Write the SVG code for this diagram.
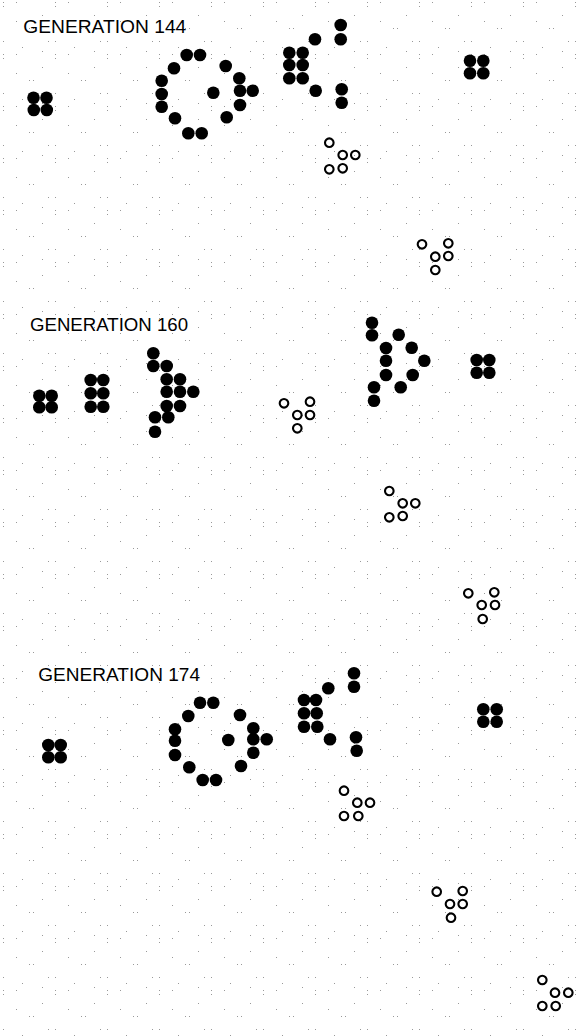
<svg xmlns="http://www.w3.org/2000/svg" width="583" height="1036" viewBox="0 0 583 1036">
<defs>
<style>
.t{font-family:"Liberation Sans",Arial,sans-serif;font-size:19px;fill:#000}
.c{fill:#000}
.o{fill:none;stroke:#000;stroke-width:2.1}
.g{fill:#999}
</style>
<pattern id="noise" x="3" y="2" width="52" height="52" patternUnits="userSpaceOnUse">
<rect class="g" x="0" y="0" width="1" height="1"/>
<rect class="g" x="0" y="4" width="1" height="1"/>
<rect class="g" x="13" y="0" width="1" height="1"/>
<rect class="g" x="39" y="13" width="1" height="1"/>
<rect class="g" x="26" y="26" width="1" height="1"/>
<rect class="g" x="30" y="26" width="1" height="1"/>
<rect class="g" x="0" y="39" width="1" height="1"/>
<rect class="g" x="45" y="39" width="1" height="1"/>
<rect class="g" x="19" y="45" width="1" height="1"/>
<rect class="g" x="13" y="19" width="1" height="1"/>
<rect class="g" x="39" y="49" width="1" height="1"/>
</pattern>
<circle id="d" r="6.3" class="c"/>
<circle id="h" r="4.3" class="o"/>
</defs>
<rect width="583" height="1036" fill="#fff"/>
<rect width="583" height="1036" fill="url(#noise)"/>

<g id="gen144">
<text class="t" x="23.3" y="32.7" textLength="163" lengthAdjust="spacingAndGlyphs">GENERATION 144</text>
<g id="g144-block-left">
<use href="#d" x="33.5" y="97.8"/><use href="#d" x="46.5" y="97.8"/>
<use href="#d" x="33.8" y="110"/><use href="#d" x="46.8" y="110"/>
</g>
<g id="g144-queenbee">
<use href="#d" x="186.7" y="55"/><use href="#d" x="200" y="55"/>
<use href="#d" x="174" y="68.3"/><use href="#d" x="225.7" y="66"/>
<use href="#d" x="161.7" y="80.7"/><use href="#d" x="239.3" y="78.3"/>
<use href="#d" x="161.7" y="94"/><use href="#d" x="213.3" y="92.7"/>
<use href="#d" x="240" y="90.7"/><use href="#d" x="252.7" y="90.7"/>
<use href="#d" x="161.7" y="106.7"/><use href="#d" x="240" y="105"/>
<use href="#d" x="175" y="118.3"/><use href="#d" x="226.7" y="117.3"/>
<use href="#d" x="188.3" y="133.3"/><use href="#d" x="201.7" y="133.3"/>
</g>
<g id="g144-gun-right">
<use href="#d" x="340.7" y="25"/><use href="#d" x="340.7" y="39.3"/>
<use href="#d" x="315" y="39.3"/>
<use href="#d" x="289.3" y="52.7"/><use href="#d" x="302.7" y="52.7"/>
<use href="#d" x="289.3" y="65"/><use href="#d" x="302.7" y="65"/>
<use href="#d" x="289.3" y="78.3"/><use href="#d" x="302.7" y="78.3"/>
<use href="#d" x="315.7" y="90.7"/><use href="#d" x="341.7" y="89.3"/>
<use href="#d" x="341.7" y="102.7"/>
</g>
<g id="g144-block-right">
<use href="#d" x="470" y="60.7"/><use href="#d" x="483.3" y="60.7"/>
<use href="#d" x="470" y="73.3"/><use href="#d" x="483.3" y="73.3"/>
</g>
<g id="g144-glider1">
<use href="#h" x="329.3" y="142.7"/>
<use href="#h" x="342.7" y="155"/><use href="#h" x="355.3" y="155"/>
<use href="#h" x="329.3" y="169.3"/><use href="#h" x="342.7" y="168.3"/>
</g>
<g id="g144-glider2">
<use href="#h" x="422" y="244.3"/><use href="#h" x="448.3" y="243.3"/>
<use href="#h" x="435.3" y="256.7"/><use href="#h" x="448.3" y="256"/>
<use href="#h" x="435.3" y="270"/>
</g>
</g>

<g id="gen160">
<text class="t" x="30" y="331" textLength="158" lengthAdjust="spacingAndGlyphs">GENERATION 160</text>
<g id="g160-block-left">
<use href="#d" x="39.3" y="395.7"/><use href="#d" x="51.7" y="395.7"/>
<use href="#d" x="39.3" y="407.3"/><use href="#d" x="51.7" y="407.3"/>
</g>
<g id="g160-block-2x3">
<use href="#d" x="90.7" y="380"/><use href="#d" x="103.3" y="380"/>
<use href="#d" x="90.7" y="393.3"/><use href="#d" x="103.3" y="393.3"/>
<use href="#d" x="90.7" y="406.7"/><use href="#d" x="103.3" y="406.7"/>
</g>
<g id="g160-queenbee">
<use href="#d" x="153.3" y="353.3"/>
<use href="#d" x="153.3" y="366"/><use href="#d" x="166.7" y="366"/>
<use href="#d" x="166.7" y="379.3"/><use href="#d" x="180" y="379.3"/>
<use href="#d" x="166.7" y="391.7"/><use href="#d" x="180" y="391.7"/><use href="#d" x="193.3" y="391.7"/>
<use href="#d" x="166.7" y="406"/><use href="#d" x="180" y="406"/>
<use href="#d" x="155" y="417.3"/><use href="#d" x="168.3" y="417.3"/>
<use href="#d" x="155" y="431.7"/>
</g>
<g id="g160-gun-right">
<use href="#d" x="372" y="322.7"/>
<use href="#d" x="372" y="335.3"/><use href="#d" x="398.7" y="334.7"/>
<use href="#d" x="386" y="348"/><use href="#d" x="411.7" y="347.7"/>
<use href="#d" x="386" y="360.7"/><use href="#d" x="424.3" y="360.7"/>
<use href="#d" x="386" y="375"/><use href="#d" x="412.7" y="375"/>
<use href="#d" x="374" y="387.3"/><use href="#d" x="400.7" y="387.3"/>
<use href="#d" x="374" y="400.7"/>
</g>
<g id="g160-block-right">
<use href="#d" x="476.7" y="360"/><use href="#d" x="489.3" y="360"/>
<use href="#d" x="476.7" y="372.7"/><use href="#d" x="489.3" y="372.7"/>
</g>
<g id="g160-glider1">
<use href="#h" x="284" y="403.3"/><use href="#h" x="310" y="401.7"/>
<use href="#h" x="297.3" y="415"/><use href="#h" x="310" y="415"/>
<use href="#h" x="297.3" y="428.3"/>
</g>
<g id="g160-glider2">
<use href="#h" x="389.3" y="491"/>
<use href="#h" x="402.7" y="503.3"/><use href="#h" x="415.3" y="503.3"/>
<use href="#h" x="389.3" y="517.3"/><use href="#h" x="402.7" y="516"/>
</g>
<g id="g160-glider3">
<use href="#h" x="468.3" y="593.3"/><use href="#h" x="494.3" y="592.3"/>
<use href="#h" x="481.7" y="605"/><use href="#h" x="495" y="605"/>
<use href="#h" x="482.7" y="619"/>
</g>
</g>

<g id="gen174">
<text class="t" x="38.3" y="681" textLength="161.7" lengthAdjust="spacingAndGlyphs">GENERATION 174</text>
<g id="g174-block-left">
<use href="#d" x="48.3" y="745"/><use href="#d" x="60.7" y="745"/>
<use href="#d" x="48.3" y="757.3"/><use href="#d" x="60.7" y="757.3"/>
</g>
<g id="g174-queenbee">
<use href="#d" x="200" y="702.7"/><use href="#d" x="213.3" y="702.7"/>
<use href="#d" x="188.3" y="716"/><use href="#d" x="240" y="715"/>
<use href="#d" x="175" y="729.3"/><use href="#d" x="253.3" y="728.3"/>
<use href="#d" x="175" y="740.7"/><use href="#d" x="228.3" y="740"/>
<use href="#d" x="253.3" y="739.3"/><use href="#d" x="266.7" y="739.3"/>
<use href="#d" x="175" y="755"/><use href="#d" x="253.3" y="752.7"/>
<use href="#d" x="189.3" y="767.3"/><use href="#d" x="241" y="766"/>
<use href="#d" x="202.7" y="780"/><use href="#d" x="216" y="780"/>
</g>
<g id="g174-gun-right">
<use href="#d" x="354" y="673.3"/><use href="#d" x="354" y="686.7"/>
<use href="#d" x="328.3" y="688.3"/>
<use href="#d" x="304" y="700"/><use href="#d" x="316" y="700"/>
<use href="#d" x="304" y="713.3"/><use href="#d" x="316.7" y="713.3"/>
<use href="#d" x="304" y="726.7"/><use href="#d" x="317.3" y="726.7"/>
<use href="#d" x="330" y="739.3"/><use href="#d" x="356" y="737.3"/>
<use href="#d" x="356.7" y="750.7"/>
</g>
<g id="g174-block-right">
<use href="#d" x="483.3" y="709.3"/><use href="#d" x="496.7" y="709.3"/>
<use href="#d" x="483.3" y="721.7"/><use href="#d" x="496.7" y="721.7"/>
</g>
<g id="g174-glider1">
<use href="#h" x="344" y="790.7"/>
<use href="#h" x="357.3" y="802.7"/><use href="#h" x="370" y="802.7"/>
<use href="#h" x="344" y="816"/><use href="#h" x="358.3" y="816"/>
</g>
<g id="g174-glider2">
<use href="#h" x="436.7" y="891.7"/><use href="#h" x="462.7" y="891"/>
<use href="#h" x="450" y="904"/><use href="#h" x="462.7" y="904"/>
<use href="#h" x="451" y="917.7"/>
</g>
<g id="g174-glider3">
<use href="#h" x="542.3" y="980"/>
<use href="#h" x="555" y="992.7"/><use href="#h" x="568.3" y="992.7"/>
<use href="#h" x="542.3" y="1006"/><use href="#h" x="555.7" y="1006"/>
</g>
</g>
<g id="connectors"/>
</svg>
